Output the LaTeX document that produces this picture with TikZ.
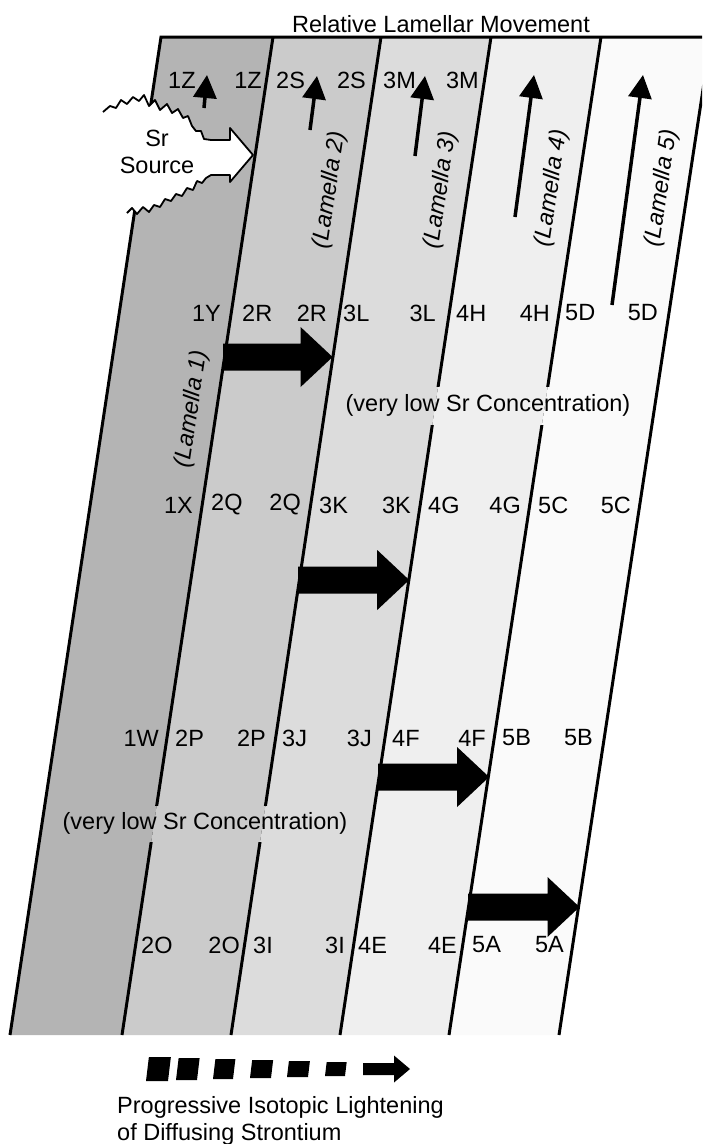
\documentclass[tikz,border=0pt]{standalone}
\usepackage{fontspec}
\setmainfont{Liberation Sans}
\usetikzlibrary{arrows.meta}
\definecolor{lamA}{HTML}{B4B4B4}
\definecolor{lamB}{HTML}{CBCBCB}
\definecolor{lamC}{HTML}{DCDCDC}
\definecolor{lamD}{HTML}{EFEFEF}
\definecolor{lamE}{HTML}{FAFAFA}
\newcommand\lamfills{%
  \fill[lamA] (t0)--(t1)--(b1)--(b0)--cycle;
  \fill[lamB] (t1)--(t2)--(b2)--(b1)--cycle;
  \fill[lamC] (t2)--(t3)--(b3)--(b2)--cycle;
  \fill[lamD] (t3)--(t4)--(b4)--(b3)--cycle;
  \fill[lamE] (t4)--(t5)--(b5)--(b4)--cycle;}
\newcommand\blockarrow[3]{%
  \fill (#1,#3-13.5) -- (#2-32,#3-13.5) -- (#2-32,#3-30) -- (#2,#3) -- (#2-32,#3+30) -- (#2-32,#3+13.5) -- (#1,#3+13.5) -- cycle;}
\newcommand\legpiece[3]{%
  \fill (#1,1069+#3/2) -- (#1+#2,1069+#3/2) -- (#1+#2+0.12*#3,1069-#3/2) -- (#1+0.12*#3,1069-#3/2) -- cycle;}
\begin{document}
\begin{tikzpicture}[x=1pt,y=-1pt,
  lbl/.style={font=\fontsize{23.5}{28}\selectfont, inner sep=0pt},
  lam/.style={font=\fontsize{23.5}{28}\selectfont\itshape, inner sep=0pt, rotate=81.4},
  bline/.style={line width=3pt},
  uparrow/.style={line width=3.5pt, -{Triangle[length=23pt,width=23pt]}},
  jag/.style={line width=1.8pt, line join=round}]
\useasboundingbox (0,0) rectangle (702,1144);
\clip (0,0) rectangle (702,1144);
% lamella boundaries
\coordinate (t0) at (161,37);  \coordinate (b0) at (10,1035);
\coordinate (t1) at (273,37);  \coordinate (b1) at (122,1035);
\coordinate (t2) at (381,37);  \coordinate (b2) at (231,1035);
\coordinate (t3) at (491,37);  \coordinate (b3) at (340,1035);
\coordinate (t4) at (601,37);  \coordinate (b4) at (449,1035);
\coordinate (t5) at (711,37);  \coordinate (b5) at (559,1035);
\lamfills
\draw[bline, line join=miter] (b0) -- (t0) -- (720,37);
\draw[bline] (t1) -- (b1);
\draw[bline] (t2) -- (b2);
\draw[bline] (t3) -- (b3);
\draw[bline] (t4) -- (b4);
\draw[bline] (t5) -- (b5);
% gaps behind the concentration notes
\begin{scope}
  \clip (338,387) rectangle (640,424);
  \lamfills
\end{scope}
\begin{scope}
  \clip (52,806) rectangle (358,841);
  \lamfills
\end{scope}
\node[lbl] (note1) at (488,405) {(very low Sr Concentration)};
\node[lbl] (note2) at (205,823) {(very low Sr Concentration)};
% title
\node[lbl, anchor=base] (title) at (441,32) {Relative Lamellar Movement};
% Sr source
\fill[white] (96,112) -- (103,112) -- (110,106) -- (116,108) -- (121,100) -- (127,104) -- (133,97) -- (139,101) -- (144,95) -- (149,106) -- (155,100) -- (160,110) -- (167,104) -- (172,113) -- (178,109) -- (183,118) -- (188,116) -- (192,126) -- (196,131) -- (201,131) -- (204,139) -- (211,140)
  -- (230,140) -- (230,128) -- (253,155) -- (230,182) -- (230,175) -- (211,175)
  -- (206,178) -- (202,183) -- (197,181) -- (193,190) -- (187,188) -- (182,196) -- (176,194) -- (171,201) -- (165,199) -- (160,207) -- (154,205) -- (149,212) -- (143,207) -- (137,214) -- (132,208) -- (127,213) -- (96,216) -- cycle;
\draw[jag] (103,112) -- (110,106) -- (116,108) -- (121,100) -- (127,104) -- (133,97) -- (139,101) -- (144,95) -- (149,106) -- (155,100) -- (160,110) -- (167,104) -- (172,113) -- (178,109) -- (183,118) -- (188,116) -- (192,126) -- (196,131) -- (201,131) -- (204,139) -- (211,140)
  -- (230,140) -- (230,128) -- (253,155) -- (230,182) -- (230,175) -- (211,175)
  -- (206,178) -- (202,183) -- (197,181) -- (193,190) -- (187,188) -- (182,196) -- (176,194) -- (171,201) -- (165,199) -- (160,207) -- (154,205) -- (149,212) -- (143,207) -- (137,214) -- (132,208) -- (127,213);
\node[lbl] (sr) at (157,138) {Sr};
\node[lbl] (source) at (157,165) {Source};
% relative movement arrows
\coordinate (u1a) at (204,108); \coordinate (u1b) at (207,75);
\coordinate (u2a) at (310,130); \coordinate (u2b) at (317,76);
\coordinate (u3a) at (415,156); \coordinate (u3b) at (425,76);
\coordinate (u4a) at (515,217); \coordinate (u4b) at (534,75);
\coordinate (u5a) at (612,305); \coordinate (u5b) at (643,75);
\draw[uparrow] (u1a) -- (u1b);
\draw[uparrow] (u2a) -- (u2b);
\draw[uparrow] (u3a) -- (u3b);
\draw[uparrow] (u4a) -- (u4b);
\draw[uparrow] (u5a) -- (u5b);
% lamella names
\node[lam] (lam1) at (192,409) {(Lamella 1)};
\node[lam] (lam2) at (330,190) {(Lamella 2)};
\node[lam] (lam3) at (441,190) {(Lamella 3)};
\node[lam] (lam4) at (552,188) {(Lamella 4)};
\node[lam] (lam5) at (662,188) {(Lamella 5)};
% diffusion arrows
\blockarrow{223}{332.6}{357}
\blockarrow{298}{409.2}{580}
\blockarrow{378}{489.1}{777}
\blockarrow{468}{579.5}{907}
% row Z
\node[lbl, anchor=west] (z1) at (168,80) {1Z};
\node[lbl, anchor=east] (z2) at (262,80) {1Z};
\node[lbl, anchor=west] (z3) at (276,80) {2S};
\node[lbl, anchor=east] (z4) at (366,80) {2S};
\node[lbl, anchor=west] (z5) at (383,80) {3M};
\node[lbl, anchor=east] (z6) at (479,80) {3M};
% row Y
\node[lbl, anchor=east] (y1) at (221,313) {1Y};
\node[lbl, anchor=west] (y2) at (242,313) {2R};
\node[lbl, anchor=east] (y3) at (327,313) {2R};
\node[lbl, anchor=west] (y4) at (343,313) {3L};
\node[lbl, anchor=east] (y5) at (436,313) {3L};
\node[lbl, anchor=west] (y6) at (456,313) {4H};
\node[lbl, anchor=east] (y7) at (550,313) {4H};
\node[lbl, anchor=west] (y8) at (565,313) {5D};
\node[lbl, anchor=east] (y9) at (658,313) {5D};
% row X
\node[lbl, anchor=east] (x1) at (193,505) {1X};
\node[lbl, anchor=west] (x2) at (211,505) {2Q};
\node[lbl, anchor=east] (x3) at (301,505) {2Q};
\node[lbl, anchor=west] (x4) at (319,505) {3K};
\node[lbl, anchor=east] (x5) at (411,505) {3K};
\node[lbl, anchor=west] (x6) at (428,505) {4G};
\node[lbl, anchor=east] (x7) at (521,505) {4G};
\node[lbl, anchor=west] (x8) at (538,505) {5C};
\node[lbl, anchor=east] (x9) at (631,505) {5C};
% row W
\node[lbl, anchor=east] (w1) at (159,738) {1W};
\node[lbl, anchor=west] (w2) at (175,738) {2P};
\node[lbl, anchor=east] (w3) at (266,738) {2P};
\node[lbl, anchor=west] (w4) at (282,738) {3J};
\node[lbl, anchor=east] (w5) at (372,738) {3J};
\node[lbl, anchor=west] (w6) at (392,738) {4F};
\node[lbl, anchor=east] (w7) at (486,738) {4F};
\node[lbl, anchor=west] (w8) at (502,738) {5B};
\node[lbl, anchor=east] (w9) at (593,738) {5B};
% row O
\node[lbl, anchor=west] (o2) at (141,945) {2O};
\node[lbl, anchor=east] (o3) at (240,945) {2O};
\node[lbl, anchor=west] (o4) at (253,945) {3I};
\node[lbl, anchor=east] (o5) at (345,945) {3I};
\node[lbl, anchor=west] (o6) at (358,945) {4E};
\node[lbl, anchor=east] (o7) at (457,945) {4E};
\node[lbl, anchor=west] (o8) at (472,945) {5A};
\node[lbl, anchor=east] (o9) at (564,945) {5A};
% legend
\legpiece{146}{22}{24}
\legpiece{176}{21}{22}
\legpiece{213}{20}{20}
\legpiece{250}{21}{18}
\legpiece{287}{21}{16}
\legpiece{325}{20}{14}
\fill (363,1075) -- (394,1075) -- (394,1082.5) -- (410,1069) -- (394,1055.5) -- (394,1063) -- (363,1063) -- cycle;
\node[lbl, anchor=base west] (leg1) at (117,1113) {Progressive Isotopic Lightening};
\node[lbl, anchor=base west] (leg2) at (117,1140) {of Diffusing Strontium};
\end{tikzpicture}
\end{document}
